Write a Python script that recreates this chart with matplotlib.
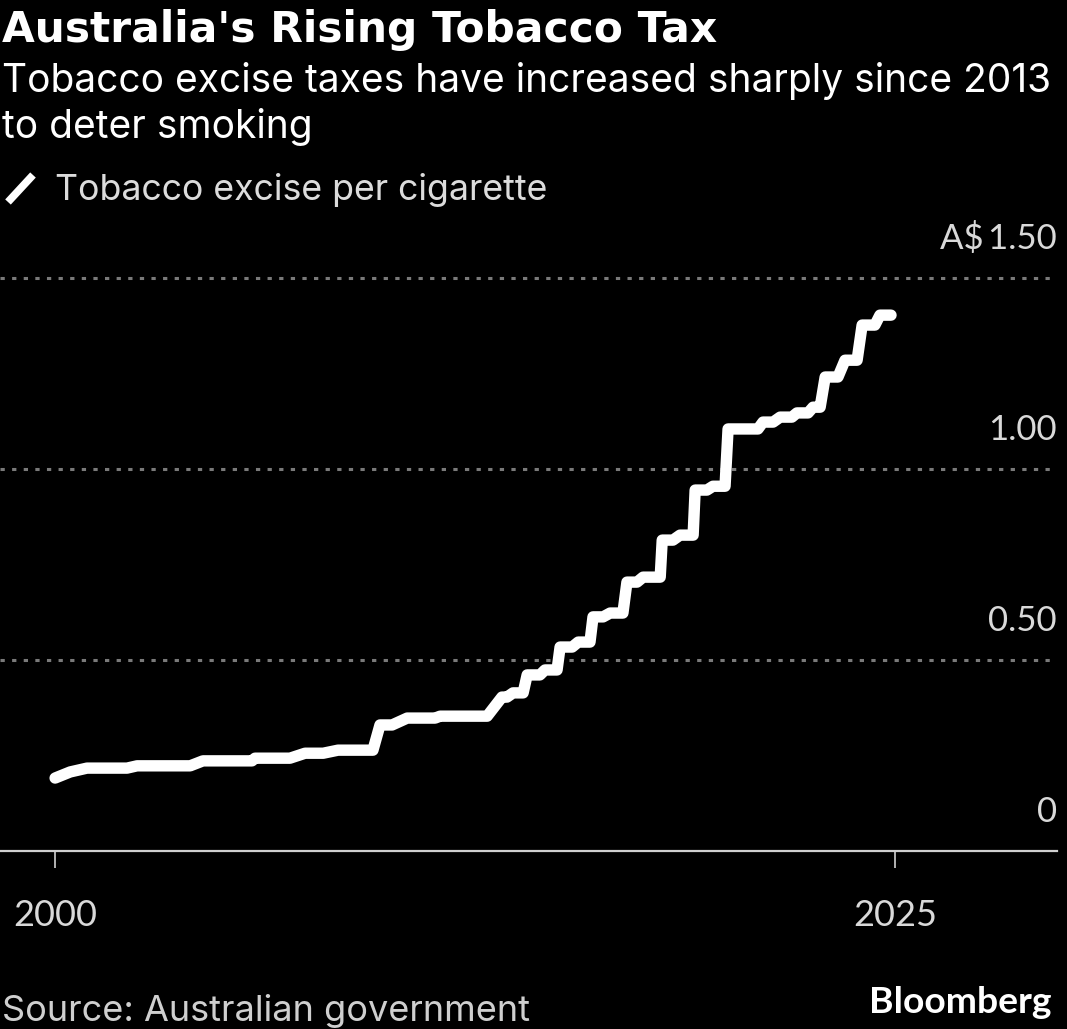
import matplotlib
matplotlib.use('Agg')
import matplotlib.pyplot as plt
from matplotlib.lines import Line2D

'''
Tobacco excise per cigarette (A$), read off the Bloomberg chart
'''
years = [2000.0, 2000.45, 2000.95, 2002.14, 2002.44, 2004.02, 2004.40, 2005.86,
         2005.95, 2006.99, 2007.44, 2007.98, 2008.42, 2009.46, 2009.67, 2010.03,
         2010.48, 2011.31, 2011.46, 2012.86, 2013.30, 2013.45, 2013.63, 2013.93,
         2014.05, 2014.43, 2014.58, 2014.94, 2015.03, 2015.39, 2015.57, 2015.92,
         2016.01, 2016.31, 2016.52, 2016.90, 2017.02, 2017.32, 2017.50, 2018.01,
         2018.07, 2018.39, 2018.60, 2018.99, 2019.05, 2019.40, 2019.58, 2019.94,
         2020.03, 2020.92, 2021.07, 2021.37, 2021.58, 2021.93, 2022.08, 2022.41,
         2022.56, 2022.77, 2022.92, 2023.30, 2023.51, 2023.87, 2024.02, 2024.40,
         2024.55, 2024.88]
excise = [0.191, 0.207, 0.217, 0.217, 0.223, 0.223, 0.236, 0.236,
          0.243, 0.243, 0.256, 0.256, 0.264, 0.264, 0.330, 0.330,
          0.348, 0.348, 0.353, 0.353, 0.403, 0.403, 0.414, 0.414,
          0.461, 0.461, 0.474, 0.474, 0.534, 0.534, 0.547, 0.547,
          0.613, 0.613, 0.623, 0.623, 0.704, 0.704, 0.717, 0.717,
          0.814, 0.814, 0.827, 0.827, 0.945, 0.945, 0.955, 0.955,
          1.105, 1.105, 1.123, 1.123, 1.136, 1.136, 1.147, 1.147,
          1.162, 1.162, 1.241, 1.241, 1.285, 1.285, 1.377, 1.377,
          1.403, 1.403]

y_ticks = [0, 0.5, 1.0, 1.5]
y_labels = ['0', '0.50', '1.00', 'A$\u20091.50']
x_ticks = [2000, 2025]
x_labels = ['2000', '2025']

plt.rcParams['font.family'] = ['Lato', 'DejaVu Sans']
body = ['Inter', 'DejaVu Sans']

W, H = 1067, 1029
fig = plt.figure(figsize=(W / 100, H / 100), dpi=100, facecolor='black')
ax = fig.add_axes([0, (H - 851) / H, 1057 / W, 592 / H], facecolor='black')

ax.plot(years, excise, color='white', lw=8.2, solid_capstyle='round',
        solid_joinstyle='round', zorder=3)

ax.set_xlim(1998.36, 2029.82)
ax.set_ylim(0, 1.55)

for v in y_ticks[1:]:
    ax.axhline(v, color='#7a7a7a', lw=2.2, dashes=(1.4, 2.4), zorder=1)
for v, lab in zip(y_ticks, y_labels):
    ax.annotate(lab, xy=(1.0, v), xycoords=('axes fraction', 'data'),
                xytext=(0, 21), textcoords='offset points', ha='right',
                va='baseline', color='#d9d9d9', fontsize=25)

for s in ['top', 'left', 'right']:
    ax.spines[s].set_visible(False)
ax.spines['bottom'].set_color('#d0d0d0')
ax.spines['bottom'].set_linewidth(1.6)
ax.set_yticks([])
ax.set_xticks(x_ticks)
ax.set_xticklabels(x_labels)
ax.tick_params(axis='x', colors='#d0d0d0', length=12.5, width=1.2,
               labelsize=26, pad=22, labelcolor='#d9d9d9')

fig.text(2 / W, 1 - 42 / H, "Australia's Rising Tobacco Tax", color='white',
         fontsize=30.5, fontweight='bold', va='baseline', family='DejaVu Sans')
fig.text(2 / W, 1 - 92 / H, 'Tobacco excise taxes have increased sharply since 2013',
         color='white', fontsize=28, va='baseline', family=body)
fig.text(2 / W, 1 - 138 / H, 'to deter smoking', color='white', fontsize=28,
         va='baseline', family=body)

fig.add_artist(Line2D([8 / W, 33 / W], [1 - 202 / H, 1 - 175 / H],
                      transform=fig.transFigure, color='white', lw=5.5,
                      solid_capstyle='butt'))
fig.text(55 / W, 1 - 200 / H, 'Tobacco excise per cigarette', color='#dcdcdc',
         fontsize=25.7, va='baseline', family=body)

fig.text(2 / W, 1 - 1021 / H, 'Source: Australian government', color='#cfcfcf',
         fontsize=26, va='baseline', family=body)
fig.text(1052 / W, 1 - 1013 / H, 'Bloomberg', color='white', fontsize=26.8,
         fontweight='bold', ha='right', va='baseline')

fig.savefig('out.png', dpi=100, facecolor='black')
